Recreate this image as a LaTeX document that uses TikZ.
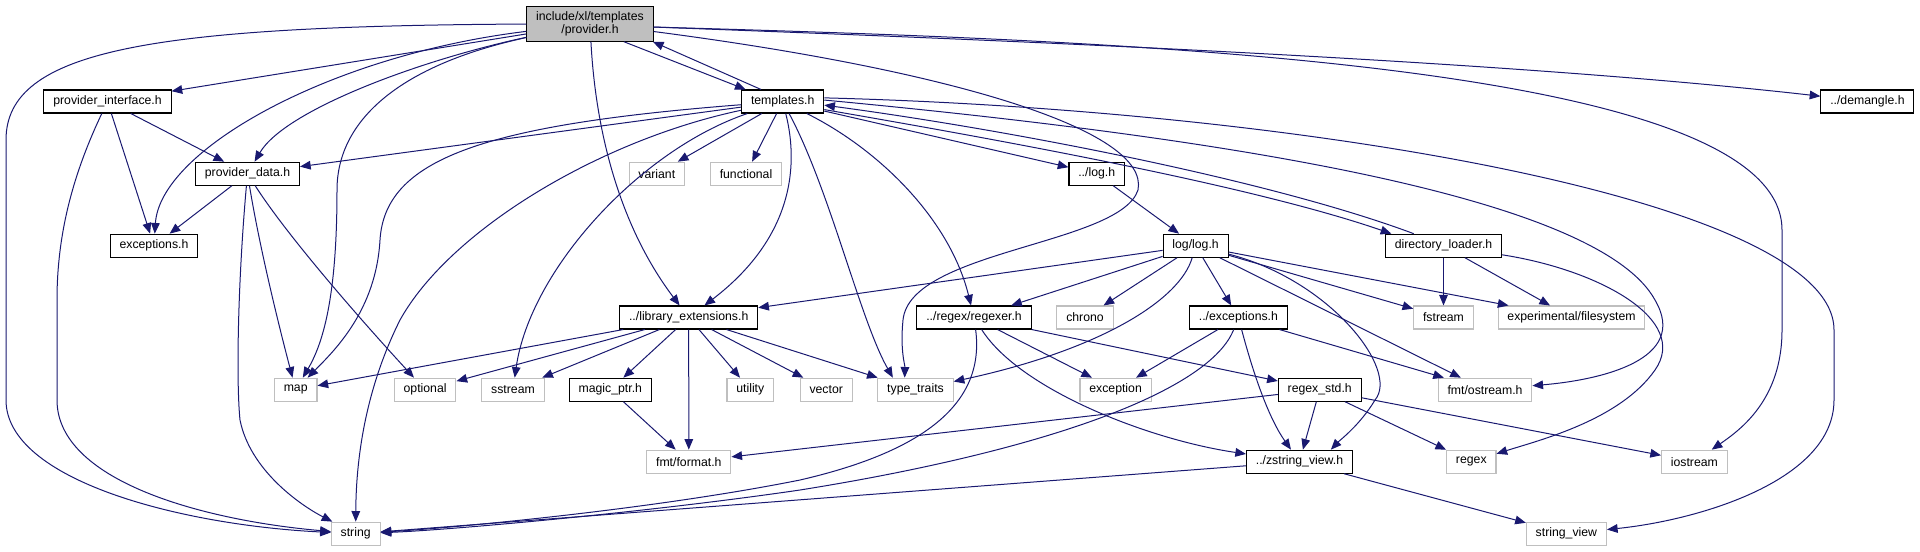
\documentclass[tikz,border=0pt]{standalone}
\usepackage{fontspec}
\setmainfont{Liberation Sans}
\usepackage{tikz}
\usetikzlibrary{arrows.meta}
\definecolor{edgeblue}{RGB}{25,25,112}
\definecolor{extgray}{RGB}{191,191,191}
\definecolor{curgray}{RGB}{191,191,191}
\tikzset{
  font=\fontsize{9.2}{11}\selectfont,
  filebox/.style={rectangle, draw=black, line width=0.8pt, fill=white,
    inner xsep=7pt, inner ysep=0pt, minimum height=17.25pt},
  docfile/.style={filebox},
  extfile/.style={filebox, draw=extgray},
  curfile/.style={filebox, fill=curgray, align=center, minimum height=26.25pt,
    font=\fontsize{9.2}{9.75}\selectfont},
  % include edges
  dep/.style={-{Triangle[length=8pt,width=6.5pt]}, edgeblue, line width=0.75pt},
}

\begin{document}
\begin{tikzpicture}[x=0.75pt,y=-0.75pt]
\useasboundingbox (0,0) rectangle (1920,551);

% ---------- row 0/1 ----------
\node[curfile] (prov) at (590,23.7) {include/xl/templates\\/provider.h};
\node[docfile] (provif)   at (107.5,101.5) {provider\_interface.h};
\node[docfile] (tmpl)     at (782.7,101.5) {templates.h};
\node[docfile] (demangle) at (1867.4,101.5) {../demangle.h};

% ---------- row 2/3 ----------
\node[docfile] (provdata)   at (247.5,173.7) {provider\_data.h};
\node[extfile] (variant)    at (656.8,173.7) {variant};
\node[extfile] (functional) at (746,173.7) {functional};
\node[docfile] (dlog)       at (1096.7,173.7) {../log.h};
\node[docfile] (exch)    at (154,245.7) {exceptions.h};
\node[docfile] (loglog)  at (1195.6,245.7) {log/log.h};
\node[docfile] (dirload) at (1443.5,245.7) {directory\_loader.h};

% ---------- row 4 ----------
\node[docfile] (libext)  at (688.7,317.5) {../library\_extensions.h};
\node[docfile] (regexer) at (974,317.5) {../regex/regexer.h};
\node[extfile] (chrono)  at (1085,317.5) {chrono};
\node[docfile] (dexc)    at (1238.4,317.5) {../exceptions.h};
\node[extfile] (fstream) at (1443.5,317.5) {fstream};
\node[extfile] (expfs)   at (1571.5,317.5) {experimental/filesystem};

% ---------- row 5 ----------
\node[extfile] (map)        at (295.7,389.7) {map};
\node[extfile] (optional)   at (425.1,389.7) {optional};
\node[extfile] (sstream)    at (513,389.7) {sstream};
\node[docfile] (magicptr)   at (610.3,389.7) {magic\_ptr.h};
\node[extfile] (utility)    at (750.3,389.7) {utility};
\node[extfile] (vector)     at (826.2,389.7) {vector};
\node[extfile] (typetraits) at (915.5,389.7) {type\_traits};
\node[extfile] (exception)  at (1115.6,389.7) {exception};
\node[docfile] (regexstd)   at (1319.7,389.7) {regex\_std.h};
\node[extfile] (fmtostream) at (1485,389.7) {fmt/ostream.h};

% ---------- rows 6/7 ----------
\node[extfile] (fmtformat) at (688.8,461.7) {fmt/format.h};
\node[docfile] (zsv)       at (1299.5,461.7) {../zstring\_view.h};
\node[extfile] (regex)     at (1471.3,461.7) {regex};
\node[extfile] (iostream)  at (1694.4,461.7) {iostream};
\node[extfile] (stringh)   at (355.7,533.7) {string};
\node[extfile] (strview)   at (1566.4,533.7) {string\_view};

% ---------- provider.h ----------
\draw[dep] (prov) .. controls (150,26) and (6,50) .. (6,140) -- (6,400)
  .. controls (6,480) and (180,525) .. (stringh);
\draw[dep] (prov) -- (provif);
\draw[dep] (prov) .. controls (330,55) and (160,150) .. (exch);
\draw[dep] (prov) .. controls (420,60) and (285,110) .. (provdata);
\draw[dep] (prov) .. controls (400,65) and (337,120) .. (337,190)
  .. controls (337,290) and (325,340) .. (map);
\draw[dep] (prov.-28) -- (tmpl.162);
\draw[dep] (prov) .. controls (595,120) and (615,220) .. (libext);
\draw[dep] (prov.-7) .. controls (950,70) and (1150,130) .. (1138,190)
  .. controls (1120,245) and (910,250) .. (903,320)
  .. controls (900,350) and (905,365) .. (typetraits.132);
\draw[dep] (prov.-3) .. controls (1000,40) and (1500,60) .. (demangle);
\draw[dep] (prov.-3) .. controls (1100,40) and (1782,60) .. (1782,230) -- (1782,330)
  .. controls (1782,400) and (1740,430) .. (iostream);

% ---------- provider_interface.h / provider_data.h ----------
\draw[dep] (provif) -- (provdata);
\draw[dep] (provif) -- (exch);
\draw[dep] (provif) .. controls (75,170) and (57,230) .. (57,300) -- (57,400)
  .. controls (57,480) and (200,520) .. (stringh);
\draw[dep] (provdata) -- (exch);
\draw[dep] (provdata) .. controls (260,250) and (280,330) .. (map);
\draw[dep] (provdata) .. controls (290,240) and (370,330) .. (optional);
\draw[dep] (provdata) .. controls (238,280) and (236,380) .. (240,420)
  .. controls (250,470) and (300,505) .. (stringh);

% ---------- templates.h ----------
\draw[dep] (tmpl.151) -- (prov.-16);
\draw[dep] (tmpl) -- (provdata);
\draw[dep] (tmpl) .. controls (480,125) and (385,160) .. (380,240)
  .. controls (376,310) and (335,350) .. (map);
\draw[dep] (tmpl) .. controls (600,140) and (450,230) .. (400,320)
  .. controls (365,390) and (356,460) .. (stringh);
\draw[dep] (tmpl) -- (variant);
\draw[dep] (tmpl) -- (functional);
\draw[dep] (tmpl) .. controls (640,150) and (530,270) .. (sstream);
\draw[dep] (tmpl) .. controls (800,170) and (790,240) .. (libext);
\draw[dep] (tmpl) .. controls (830,190) and (860,320) .. (typetraits.152);
\draw[dep] (tmpl) .. controls (880,150) and (950,220) .. (regexer);
\draw[dep] (tmpl) -- (dlog);
\draw[dep] (tmpl.-11) .. controls (1000,140) and (1250,185) .. (dirload.167);
\draw[dep] (dirload.158) .. controls (1270,180) and (1010,130) .. (tmpl.-5);
\draw[dep] (tmpl.2) .. controls (1250,140) and (1600,200) .. (1655,300)
  .. controls (1690,360) and (1600,380) .. (fmtostream);
\draw[dep] (tmpl.5) .. controls (1300,110) and (1834,200) .. (1834,330) -- (1834,400)
  .. controls (1834,480) and (1700,520) .. (strview);

% ---------- log ----------
\draw[dep] (dlog) -- (loglog);
\draw[dep] (loglog) -- (libext);
\draw[dep] (loglog) -- (regexer);
\draw[dep] (loglog) -- (chrono);
\draw[dep] (loglog) .. controls (1180,300) and (1100,350) .. (typetraits);
\draw[dep] (loglog) -- (dexc);
\draw[dep] (loglog) .. controls (1330,280) and (1400,370) .. (1375,400)
  .. controls (1360,425) and (1340,440) .. (zsv.21);
\draw[dep] (loglog) -- (fstream);
\draw[dep] (loglog) -- (expfs);
\draw[dep] (loglog) -- (fmtostream);

% ---------- directory_loader.h ----------
\draw[dep] (dirload) -- (fstream);
\draw[dep] (dirload) -- (expfs);
\draw[dep] (dirload) .. controls (1600,270) and (1690,320) .. (1655,370)
  .. controls (1620,420) and (1540,440) .. (regex);

% ---------- library_extensions.h ----------
\draw[dep] (libext) -- (map);
\draw[dep] (libext) -- (optional);
\draw[dep] (libext) -- (sstream);
\draw[dep] (libext) -- (magicptr);
\draw[dep] (libext) -- (fmtformat);
\draw[dep] (libext) -- (utility);
\draw[dep] (libext) -- (vector);
\draw[dep] (libext) -- (typetraits);
\draw[dep] (magicptr) -- (fmtformat);

% ---------- regexer / exceptions ----------
\draw[dep] (regexer) .. controls (985,400) and (930,450) .. (800,480)
  .. controls (650,510) and (450,528) .. (stringh);
\draw[dep] (regexer) -- (exception);
\draw[dep] (regexer) .. controls (1020,390) and (1150,440) .. (zsv);
\draw[dep] (regexer) -- (regexstd);
\draw[dep] (dexc) -- (exception);
\draw[dep] (dexc) .. controls (1210,390) and (1050,450) .. (800,490)
  .. controls (650,512) and (450,530) .. (stringh);
\draw[dep] (dexc) .. controls (1255,380) and (1270,420) .. (zsv);
\draw[dep] (dexc) -- (fmtostream);

% ---------- regex_std.h / zstring_view.h ----------
\draw[dep] (regexstd) -- (fmtformat);
\draw[dep] (regexstd) -- (zsv);
\draw[dep] (regexstd) -- (regex);
\draw[dep] (regexstd) -- (iostream);
\draw[dep] (zsv) -- (stringh);
\draw[dep] (zsv) -- (strview);

\end{tikzpicture}
\end{document}
